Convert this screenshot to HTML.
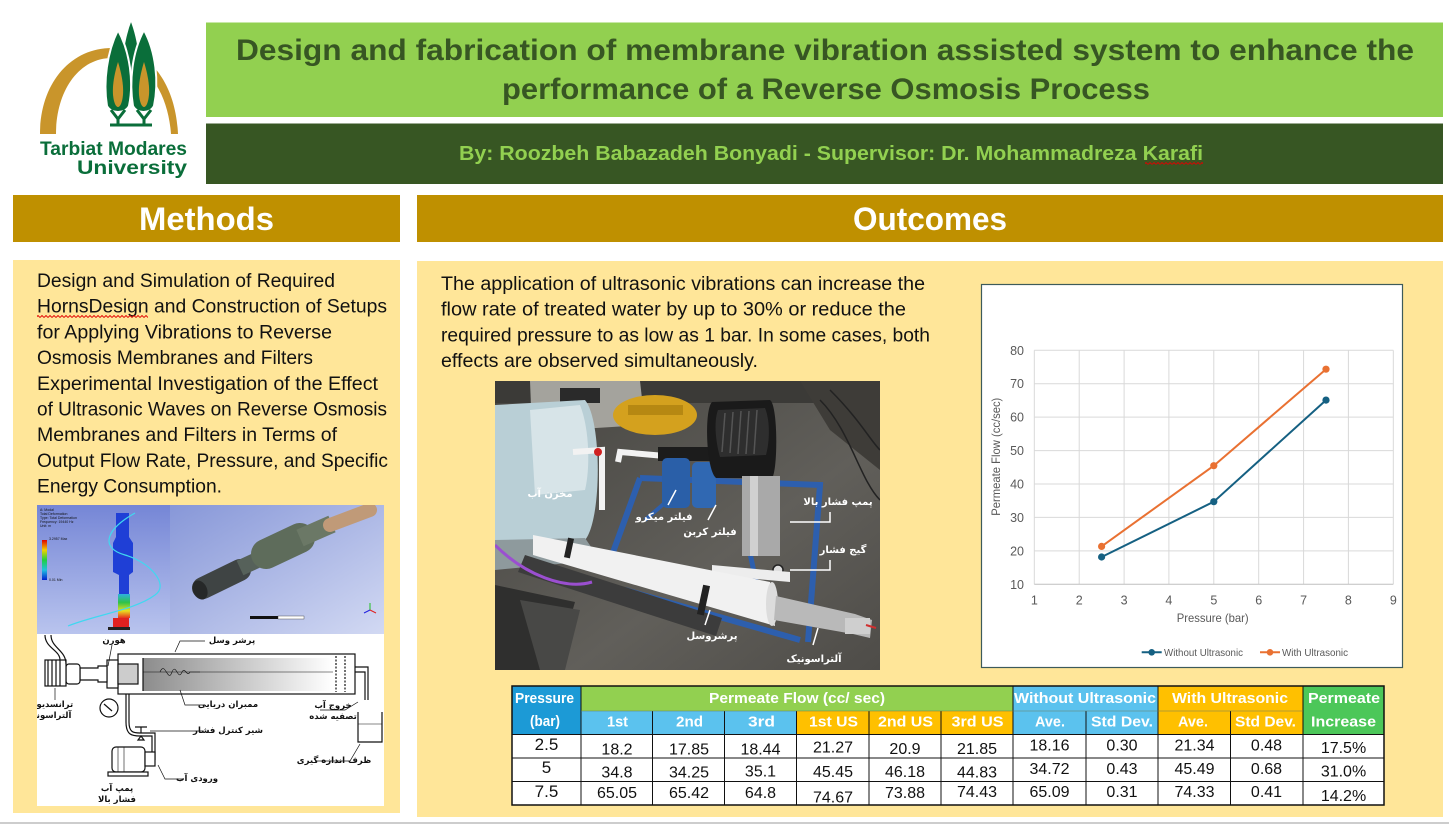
<!DOCTYPE html>
<html><head><meta charset="utf-8">
<style>
html,body{margin:0;padding:0;background:#fff;width:1449px;height:826px;overflow:hidden}
svg{display:block}
</style></head>
<body>
<svg xmlns="http://www.w3.org/2000/svg" width="1449" height="826" viewBox="0 0 1449 826" font-family="'Liberation Sans','DejaVu Sans',sans-serif">
<defs>
  <pattern id="sq" width="4" height="3" patternUnits="userSpaceOnUse">
    <path d="M0,2.5 L2,0.5 L4,2.5" fill="none" stroke="#e00000" stroke-width="0.9"/>
  </pattern>
  <linearGradient id="ansys" x1="0" y1="0" x2="0" y2="1">
    <stop offset="0" stop-color="#7586d6"/><stop offset="1" stop-color="#b9c4ee"/>
  </linearGradient>
  <linearGradient id="meshbg" x1="0" y1="0" x2="1" y2="1">
    <stop offset="0" stop-color="#8797d8"/><stop offset="1" stop-color="#d2d9f3"/>
  </linearGradient>
  <linearGradient id="memb" x1="0" y1="0" x2="1" y2="0">
    <stop offset="0" stop-color="#8c8c8c"/><stop offset="1" stop-color="#ffffff"/>
  </linearGradient>
  <linearGradient id="floor" x1="0" y1="0" x2="1" y2="1">
    <stop offset="0" stop-color="#454440"/><stop offset="0.6" stop-color="#615f5a"/><stop offset="1" stop-color="#4e4c48"/>
  </linearGradient>
  <linearGradient id="horncol" x1="0" y1="0" x2="0" y2="1">
    <stop offset="0" stop-color="#2fb0e0"/><stop offset="0.35" stop-color="#2ec24a"/><stop offset="0.7" stop-color="#e8e020"/><stop offset="1" stop-color="#e83020"/>
  </linearGradient>
  <linearGradient id="legcol" x1="0" y1="0" x2="0" y2="1">
    <stop offset="0" stop-color="#e00000"/><stop offset="0.25" stop-color="#f0d000"/><stop offset="0.5" stop-color="#20d040"/><stop offset="0.75" stop-color="#20c0e0"/><stop offset="1" stop-color="#0020d0"/>
  </linearGradient>
  <clipPath id="photoClip"><rect x="495" y="381" width="385" height="289"/></clipPath>
  <clipPath id="mimgClip"><rect x="37" y="505" width="347" height="301"/></clipPath>
</defs>

<rect width="1449" height="826" fill="#ffffff"/>

<!-- LOGO -->
<g>
  <path d="M40,134 C40,84 70,48 112,48 C150,48 176,85 178,134 L171,134 C168,92 146,58 112,58 C78,58 56,92 56,134 Z" fill="#C9952B"/>
  <path d="M131,20 C139,40 143,72 140,100 L122,100 C119,72 123,40 131,20 Z" fill="#0A6E3A" stroke="#fff" stroke-width="1.5"/>
  <path d="M118,30 C130,52 134,82 129,106 C125,114 111,114 107,106 C103,82 107,52 118,30 Z" fill="#0A6E3A" stroke="#fff" stroke-width="2"/>
  <path d="M144,30 C156,52 159,82 154,106 C150,114 137,114 133,106 C129,82 132,52 144,30 Z" fill="#0A6E3A" stroke="#fff" stroke-width="2"/>
  <path d="M118,62 C123,78 125,94 121,104 C119,108 117,108 115,104 C111,94 113,78 118,62 Z" fill="#C9952B"/>
  <path d="M144,62 C149,78 151,94 147,104 C145,108 143,108 141,104 C137,94 139,78 144,62 Z" fill="#C9952B"/>
  <path d="M111,110 L118,119 L118,125 M125,110 L118,119 M137,110 L144,119 L144,125 M151,110 L144,119 M110,125 L152,125" fill="none" stroke="#0A6E3A" stroke-width="3"/>
  <text x="40" y="155" font-size="19" font-weight="bold" fill="#0A6E3A" textLength="147" lengthAdjust="spacingAndGlyphs">Tarbiat Modares</text>
  <text x="77" y="174" font-size="19" font-weight="bold" fill="#0A6E3A" textLength="110" lengthAdjust="spacingAndGlyphs">University</text>
</g>

<!-- TITLE -->
<rect x="206" y="22.5" width="1237" height="94.5" fill="#92D050"/>
<rect x="206" y="123.5" width="1237" height="60.5" fill="#375623"/>
<text x="236" y="60" font-size="30" font-weight="bold" fill="#375623" textLength="1178" lengthAdjust="spacingAndGlyphs">Design and fabrication of membrane vibration assisted system to enhance the</text>
<text x="502" y="99" font-size="30" font-weight="bold" fill="#375623" textLength="648" lengthAdjust="spacingAndGlyphs">performance of a Reverse Osmosis Process</text>
<text x="459" y="160" font-size="20" font-weight="bold" fill="#92D050" textLength="744" lengthAdjust="spacingAndGlyphs">By: Roozbeh Babazadeh Bonyadi -  Supervisor: Dr.  Mohammadreza Karafi</text>
<rect x="1145" y="161.5" width="58" height="3" fill="url(#sq)"/>

<!-- SECTION HEADERS -->
<rect x="13" y="195" width="387" height="47" fill="#BF9000"/>
<rect x="417" y="195" width="1026" height="47" fill="#BF9000"/>
<text x="139" y="230" font-size="32" font-weight="bold" fill="#ffffff" textLength="135" lengthAdjust="spacingAndGlyphs">Methods</text>
<text x="853" y="230" font-size="32" font-weight="bold" fill="#ffffff" textLength="154" lengthAdjust="spacingAndGlyphs">Outcomes</text>

<!-- PANELS -->
<rect x="13" y="260" width="387" height="553" fill="#FFE699"/>
<rect x="417" y="261" width="1026" height="556" fill="#FFE699"/>
<rect x="0" y="822" width="1449" height="2" fill="#cdcdcd"/>

<!-- METHODS TEXT -->
<g font-size="19" fill="#111">
  <text x="37" y="287" textLength="298" lengthAdjust="spacingAndGlyphs">Design and Simulation of Required</text>
  <text x="37" y="312.7" textLength="350" lengthAdjust="spacingAndGlyphs">HornsDesign and Construction of Setups</text>
  <text x="37" y="338.4" textLength="295" lengthAdjust="spacingAndGlyphs">for Applying Vibrations to Reverse</text>
  <text x="37" y="364.1" textLength="276" lengthAdjust="spacingAndGlyphs">Osmosis Membranes and Filters</text>
  <text x="37" y="389.8" textLength="341" lengthAdjust="spacingAndGlyphs">Experimental Investigation of the Effect</text>
  <text x="37" y="415.5" textLength="350" lengthAdjust="spacingAndGlyphs">of Ultrasonic Waves on Reverse Osmosis</text>
  <text x="37" y="441.2" textLength="300" lengthAdjust="spacingAndGlyphs">Membranes and Filters in Terms of</text>
  <text x="37" y="466.9" textLength="351" lengthAdjust="spacingAndGlyphs">Output Flow Rate, Pressure, and Specific</text>
  <text x="37" y="492.6" textLength="185" lengthAdjust="spacingAndGlyphs">Energy Consumption.</text>
</g>
<rect x="37" y="315" width="111" height="3" fill="url(#sq)"/>

<!-- METHODS IMAGE -->
<g clip-path="url(#mimgClip)">
  <rect x="37" y="505" width="347" height="301" fill="#ffffff"/>
  <rect x="37" y="505" width="133" height="129" fill="url(#ansys)"/>
  <rect x="170" y="505" width="214" height="129" fill="url(#meshbg)"/>
  <rect x="42" y="540" width="5" height="40" fill="url(#legcol)"/>
  <g font-size="3.5" fill="#111">
    <text x="40" y="511">A: Modal</text>
    <text x="40" y="515">Total Deformation</text>
    <text x="40" y="519">Type: Total Deformation</text>
    <text x="40" y="523">Frequency: 19440 Hz</text>
    <text x="40" y="527">Unit: m</text>
    <text x="49" y="540">3.2957 Max</text>
    <text x="49" y="581">0.01 Min</text>
  </g>
  <path d="M116,513 L129,513 L129,537 L133,543 L133,572 L129,575 L129,595 L119,595 L119,575 L113,572 L113,543 L116,537 Z" fill="#1f3fd6"/>
  <rect x="118" y="594" width="12" height="24" fill="url(#horncol)"/>
  <rect x="113" y="618" width="16" height="10" fill="#e02020"/>
  <rect x="108" y="627" width="22" height="3" fill="#222"/>
  <path d="M68,626 C95,615 135,610 155,595 C170,585 150,562 125,555 C100,548 105,530 135,513" fill="none" stroke="#40d8f0" stroke-width="1.2"/>
  <line x1="203" y1="588" x2="240" y2="570" stroke="#3f4444" stroke-width="22" stroke-linecap="round"/>
  <line x1="240" y1="568" x2="268" y2="555" stroke="#56615a" stroke-width="16"/>
  <line x1="266" y1="554" x2="300" y2="538" stroke="#5e6c5b" stroke-width="30" stroke-linecap="round"/>
  <line x1="300" y1="538" x2="332" y2="524" stroke="#6b7866" stroke-width="18"/>
  <line x1="330" y1="525" x2="370" y2="510" stroke="#c09a78" stroke-width="14" stroke-linecap="round"/>
  <ellipse cx="200" cy="590" rx="7" ry="10" transform="rotate(-25 200 590)" fill="#262828"/>
  <rect x="250" y="616" width="28" height="3" fill="#111"/>
  <rect x="278" y="616" width="26" height="3" fill="#fff" stroke="#333" stroke-width="0.4"/>
  <g stroke-width="1"><line x1="370" y1="610" x2="370" y2="603" stroke="#20c020"/><line x1="370" y1="610" x2="364" y2="613" stroke="#2020e0"/><line x1="370" y1="610" x2="376" y2="613" stroke="#e02020"/></g>
  <g fill="none" stroke="#111" stroke-width="1.2">
    <rect x="118" y="654" width="237" height="40" fill="#fff"/>
    <rect x="143" y="658" width="190" height="33" fill="url(#memb)" stroke="none"/>
    <line x1="143" y1="658" x2="143" y2="691"/>
    <line x1="143" y1="672" x2="333" y2="672" stroke-width="0.6"/>
    <line x1="336" y1="656" x2="336" y2="692" stroke-dasharray="2,1.5"/>
    <line x1="345" y1="656" x2="345" y2="692" stroke-dasharray="2,1.5"/>
    <rect x="107" y="660" width="11" height="28" fill="#fff"/>
    <rect x="118" y="664" width="20" height="20" fill="#ccc"/>
    <path d="M80,668 L98,668 L98,666 L107,666 L107,682 L98,682 L98,680 L80,680 Z" fill="#fff"/>
    <rect x="66" y="664" width="14" height="20" rx="3" fill="#fff"/>
    <rect x="45" y="660" width="21" height="26" fill="#fff"/>
    <path d="M48,660 L48,686 M52,660 L52,686 M56,660 L56,686 M60,660 L60,686"/>
    <path d="M45,635 C45,648 60,650 60,660 M51,635 C51,648 66,650 66,664"/>
    <path d="M160,672 C165,660 168,684 172,672 C176,662 178,682 182,672 C185,666 187,678 190,672 L200,672" stroke-width="0.6"/>
    <path d="M355,667 L368,667 L368,700 M355,672 L365,672 L365,700"/>
    <path d="M358,712 L358,742 L382,742 L382,712"/>
    <line x1="358" y1="724" x2="382" y2="724" stroke-width="0.6"/>
    <line x1="126" y1="694" x2="126" y2="722"/><line x1="129" y1="694" x2="129" y2="722"/>
    <circle cx="109" cy="708" r="9" fill="#fff"/>
    <line x1="104" y1="704" x2="112" y2="711"/>
    <path d="M126,722 C126,735 132,736 140,736 L152,736 L152,760 M129,722 C129,732 133,733 140,733 L155,733 L155,760"/>
    <path d="M135,727 L147,727 M141,727 L141,733 M138,740 L144,740 L141,736 Z"/>
    <rect x="112" y="747" width="33" height="25" rx="4" fill="#fff"/>
    <rect x="145" y="752" width="10" height="14" fill="#fff"/>
    <rect x="108" y="772" width="40" height="4" fill="#fff"/>
    <line x1="118" y1="747" x2="118" y2="772" stroke-width="0.6"/><line x1="124" y1="747" x2="124" y2="772" stroke-width="0.6"/>
    <path d="M205,641 L180,641 L175,652" stroke-width="0.7"/>
    <path d="M112,645 L108,666" stroke-width="0.7"/>
    <path d="M55,700 L55,688" stroke-width="0.7"/>
    <path d="M205,705 L185,705 L180,690" stroke-width="0.7"/>
    <path d="M320,710 L345,710 L358,702" stroke-width="0.7"/>
    <path d="M202,731 L150,731" stroke-width="0.7"/>
    <path d="M315,761 L350,761 L360,744" stroke-width="0.7"/>
    <path d="M182,779 L165,779 L158,765" stroke-width="0.7"/>
  </g>
  <g font-family="'DejaVu Sans',sans-serif" font-size="8.5" font-weight="bold" fill="#111" text-anchor="middle">
    <text x="232" y="643">پرشر وسل</text>
    <text x="114" y="643">هورن</text>
    <text x="48" y="707">ترانسدیوسر</text>
    <text x="48" y="718">آلتراسونیک</text>
    <text x="228" y="707">ممبران دریایی</text>
    <text x="333" y="708">خروج آب</text>
    <text x="333" y="719">تصفیه شده</text>
    <text x="228" y="733">شیر کنترل فشار</text>
    <text x="334" y="763">ظرف اندازه گیری</text>
    <text x="197" y="781">ورودی آب</text>
    <text x="117" y="791">پمپ آب</text>
    <text x="117" y="802">فشار بالا</text>
  </g>
</g>

<!-- OUTCOMES TEXT -->
<g font-size="19" fill="#111">
  <text x="441" y="290" textLength="484" lengthAdjust="spacingAndGlyphs">The application of ultrasonic vibrations can increase the</text>
  <text x="441" y="315.7" textLength="465" lengthAdjust="spacingAndGlyphs">flow rate of treated water by up to 30% or reduce the</text>
  <text x="441" y="341.3" textLength="489" lengthAdjust="spacingAndGlyphs">required pressure to as low as 1 bar. In some cases, both</text>
  <text x="441" y="367" textLength="317" lengthAdjust="spacingAndGlyphs">effects are observed simultaneously.</text>
</g>

<!-- PHOTO -->
<g clip-path="url(#photoClip)">
  <rect x="495" y="381" width="385" height="289" fill="url(#floor)"/>
  <rect x="495" y="381" width="385" height="22" fill="#3b3a37"/>
  <polygon points="530,381 640,381 645,425 532,432" fill="#a4a39d"/>
  <rect x="560" y="388" width="40" height="15" fill="#2a2a2a"/>
  <polygon points="800,381 880,381 880,470 830,430" fill="#3e3c38"/>
  <path d="M820,400 C850,430 860,480 880,500 M830,390 C860,420 870,440 880,450" fill="none" stroke="#222" stroke-width="1.5"/>
  <ellipse cx="655" cy="415" rx="42" ry="20" fill="#d4a11e"/>
  <rect x="628" y="405" width="55" height="10" fill="#b68812"/>
  <path d="M495,405 L585,400 C602,420 602,520 585,540 L495,545 Z" fill="#b9cfd6"/>
  <path d="M530,410 L580,405 C590,430 590,470 585,490 L535,495 Z" fill="#d7e4e8"/>
  <path d="M495,540 L585,538 L600,560 L495,570 Z" fill="#8e9a9d"/>
  <polyline points="573,452 602,450 602,510" fill="none" stroke="#f2f2f2" stroke-width="6"/>
  <polyline points="618,462 620,452 665,456" fill="none" stroke="#f2f2f2" stroke-width="6"/>
  <circle cx="598" cy="452" r="4" fill="#d02020"/>
  <polyline points="640,478 820,485 808,642" fill="none" stroke="#2d5fae" stroke-width="6"/>
  <polyline points="640,478 612,555" fill="none" stroke="#2d5fae" stroke-width="6"/>
  <polyline points="625,590 800,640" fill="none" stroke="#2d5fae" stroke-width="6"/>
  <polyline points="745,530 760,600" fill="none" stroke="#2d5fae" stroke-width="5"/>
  <polyline points="680,490 645,520" fill="none" stroke="#2d5fae" stroke-width="4"/>
  <rect x="658" y="447" width="72" height="14" fill="#1c1c1c"/>
  <rect x="662" y="458" width="28" height="50" rx="5" fill="#2a5fa8"/>
  <rect x="692" y="462" width="24" height="46" rx="5" fill="#3068b2"/>
  <path d="M712,402 L770,400 C778,405 778,470 772,478 L716,478 C706,470 704,410 712,402 Z" fill="#1a1a1a"/>
  <path d="M718,410 L765,408 C770,420 770,440 766,455 L720,457 C715,440 714,420 718,410 Z" fill="#2e2e2e"/>
  <g stroke="#555" stroke-width="1.5"><line x1="725" y1="413" x2="722" y2="452"/><line x1="733" y1="412" x2="730" y2="453"/><line x1="741" y1="411" x2="738" y2="454"/><line x1="749" y1="411" x2="746" y2="454"/><line x1="757" y1="410" x2="754" y2="454"/></g>
  <rect x="742" y="476" width="38" height="80" fill="#a9a9a9"/>
  <rect x="750" y="476" width="8" height="80" fill="#d0d0d0"/>
  <circle cx="778" cy="570" r="5" fill="#ddd" stroke="#222" stroke-width="1.5"/>
  <polygon points="712,565 790,572 790,582 712,575" fill="#ededed"/>
  <polygon points="525,555 722,618 716,636 518,572" fill="#3c3c3c"/>
  <polygon points="533,535 770,582 775,626 533,555" fill="#f1f1f1"/>
  <ellipse cx="772" cy="604" rx="6" ry="22" fill="#dcdcdc"/>
  <rect x="566" y="538" width="6" height="20" fill="#222" transform="rotate(12 569 548)"/>
  <rect x="700" y="585" width="7" height="30" fill="#222" transform="rotate(12 703 600)"/>
  <polygon points="776,596 855,614 872,620 870,638 853,634 774,620" fill="#b9b9b9"/>
  <rect x="845" y="618" width="25" height="16" fill="#cfcfcf"/>
  <path d="M866,625 L876,628" stroke="#d03030" stroke-width="2"/>
  <path d="M495,545 C525,575 565,590 592,582" fill="none" stroke="#9b4fd0" stroke-width="3"/>
  <polygon points="495,585 575,602 555,670 495,670" fill="#2f2f2e"/>
  <polygon points="520,600 580,610 565,670 540,670" fill="#484846"/>
  <g fill="none" stroke="#fff" stroke-width="1.5">
    <path d="M668,505 L676,490"/>
    <path d="M708,520 L716,505"/>
    <path d="M830,512 L830,522 L790,522"/>
    <path d="M830,560 L830,570 L790,570"/>
    <path d="M705,625 L710,610"/>
    <path d="M813,645 L818,628"/>
  </g>
  <g font-family="'DejaVu Sans',sans-serif" font-size="10" font-weight="bold" fill="#ffffff" text-anchor="middle">
    <text x="550" y="497">مخزن آب</text>
    <text x="664" y="520">فیلتر میکرو</text>
    <text x="710" y="535">فیلتر کربن</text>
    <text x="838" y="505">پمپ فشار بالا</text>
    <text x="843" y="553">گیج فشار</text>
    <text x="712" y="639">پرشروسل</text>
    <text x="814" y="662">آلتراسونیک</text>
  </g>
</g>

<!-- CHART -->
<g>
  <rect x="981.5" y="284.5" width="421" height="383" fill="#ffffff" stroke="#3d5b5b" stroke-width="1.2"/>
  <g stroke="#d9d9d9" stroke-width="1">
    <line x1="1034.3" y1="350.3" x2="1393.3" y2="350.3"/>
    <line x1="1034.3" y1="383.7" x2="1393.3" y2="383.7"/>
    <line x1="1034.3" y1="417.1" x2="1393.3" y2="417.1"/>
    <line x1="1034.3" y1="450.6" x2="1393.3" y2="450.6"/>
    <line x1="1034.3" y1="484.0" x2="1393.3" y2="484.0"/>
    <line x1="1034.3" y1="517.4" x2="1393.3" y2="517.4"/>
    <line x1="1034.3" y1="550.9" x2="1393.3" y2="550.9"/>
    <line x1="1034.3" y1="350.3" x2="1034.3" y2="584.3"/>
    <line x1="1079.2" y1="350.3" x2="1079.2" y2="584.3"/>
    <line x1="1124.1" y1="350.3" x2="1124.1" y2="584.3"/>
    <line x1="1168.9" y1="350.3" x2="1168.9" y2="584.3"/>
    <line x1="1213.8" y1="350.3" x2="1213.8" y2="584.3"/>
    <line x1="1258.7" y1="350.3" x2="1258.7" y2="584.3"/>
    <line x1="1303.6" y1="350.3" x2="1303.6" y2="584.3"/>
    <line x1="1348.4" y1="350.3" x2="1348.4" y2="584.3"/>
    <line x1="1393.3" y1="350.3" x2="1393.3" y2="584.3"/>
  </g>
  <line x1="1034.3" y1="584.3" x2="1393.3" y2="584.3" stroke="#bfbfbf" stroke-width="1"/>
  <g font-size="12.5" fill="#595959" text-anchor="end">
    <text x="1024" y="354.8">80</text>
    <text x="1024" y="388.2">70</text>
    <text x="1024" y="421.6">60</text>
    <text x="1024" y="455.1">50</text>
    <text x="1024" y="488.5">40</text>
    <text x="1024" y="521.9">30</text>
    <text x="1024" y="555.4">20</text>
    <text x="1024" y="588.8">10</text>
  </g>
  <g font-size="12.5" fill="#595959" text-anchor="middle">
    <text x="1034.3" y="604.5">1</text>
    <text x="1079.2" y="604.5">2</text>
    <text x="1124.1" y="604.5">3</text>
    <text x="1168.9" y="604.5">4</text>
    <text x="1213.8" y="604.5">5</text>
    <text x="1258.7" y="604.5">6</text>
    <text x="1303.6" y="604.5">7</text>
    <text x="1348.4" y="604.5">8</text>
    <text x="1393.3" y="604.5">9</text>
  </g>
  <text x="1212.7" y="622" font-size="12" fill="#595959" text-anchor="middle" textLength="72" lengthAdjust="spacingAndGlyphs">Pressure (bar)</text>
  <text transform="translate(1000,456.7) rotate(-90)" font-size="12" fill="#595959" text-anchor="middle" textLength="118" lengthAdjust="spacingAndGlyphs">Permeate Flow (cc/sec)</text>
  <polyline points="1101.6,557.0 1213.8,501.7 1326.0,400.1" fill="none" stroke="#156082" stroke-width="2"/>
  <polyline points="1101.6,546.4 1213.8,465.7 1326.0,369.2" fill="none" stroke="#E97132" stroke-width="2"/>
  <g fill="#156082"><circle cx="1101.6" cy="557.0" r="3.6"/><circle cx="1213.8" cy="501.7" r="3.6"/><circle cx="1326.0" cy="400.1" r="3.6"/></g>
  <g fill="#E97132"><circle cx="1101.6" cy="546.4" r="3.6"/><circle cx="1213.8" cy="465.7" r="3.6"/><circle cx="1326.0" cy="369.2" r="3.6"/></g>
  <line x1="1141.7" y1="652.3" x2="1161.7" y2="652.3" stroke="#156082" stroke-width="2"/>
  <circle cx="1151.7" cy="652.3" r="3.3" fill="#156082"/>
  <text x="1164" y="655.8" font-size="10.5" fill="#595959" textLength="79" lengthAdjust="spacingAndGlyphs">Without Ultrasonic</text>
  <line x1="1260" y1="652.3" x2="1280" y2="652.3" stroke="#E97132" stroke-width="2"/>
  <circle cx="1270" cy="652.3" r="3.3" fill="#E97132"/>
  <text x="1282" y="655.8" font-size="10.5" fill="#595959" textLength="66" lengthAdjust="spacingAndGlyphs">With Ultrasonic</text>
</g>

<!-- TABLE -->
<g>
  <rect x="512" y="686" width="872" height="119" fill="#ffffff"/>
  <rect x="512" y="686" width="69" height="48.5" fill="#1C9AD6"/>
  <rect x="581" y="686" width="432" height="25" fill="#92D050"/>
  <rect x="581" y="711" width="215.5" height="23.5" fill="#5BC2EE"/>
  <rect x="796.5" y="711" width="216.5" height="23.5" fill="#FFC000"/>
  <rect x="1013" y="686" width="145" height="48.5" fill="#5BC2EE"/>
  <rect x="1158" y="686" width="145" height="48.5" fill="#FFC000"/>
  <rect x="1303" y="686" width="81" height="48.5" fill="#4CC759"/>
  <g stroke="#111" stroke-width="1" fill="none">
    <rect x="512" y="686" width="872" height="119" stroke-width="1.5"/>
    <line x1="581" y1="686" x2="581" y2="805"/>
    <line x1="1013" y1="686" x2="1013" y2="805"/>
    <line x1="1158" y1="686" x2="1158" y2="805"/>
    <line x1="1303" y1="686" x2="1303" y2="805"/>
    <line x1="652.5" y1="711" x2="652.5" y2="805"/>
    <line x1="724.5" y1="711" x2="724.5" y2="805"/>
    <line x1="796.5" y1="711" x2="796.5" y2="805"/>
    <line x1="869" y1="711" x2="869" y2="805"/>
    <line x1="941" y1="711" x2="941" y2="805"/>
    <line x1="1086" y1="711" x2="1086" y2="805"/>
    <line x1="1230.5" y1="711" x2="1230.5" y2="805"/>
    <line x1="581" y1="711" x2="1303" y2="711" stroke="#6a7a60" stroke-width="0.6"/>
    <line x1="512" y1="734.5" x2="1384" y2="734.5"/>
    <line x1="512" y1="758" x2="1384" y2="758"/>
    <line x1="512" y1="781.5" x2="1384" y2="781.5"/>
  </g>
  <g font-size="15" font-weight="bold" fill="#ffffff" text-anchor="middle">
    <text x="544.5" y="703" textLength="59" lengthAdjust="spacingAndGlyphs">Pressure</text>
    <text x="545" y="726" textLength="30" lengthAdjust="spacingAndGlyphs">(bar)</text>
    <text x="797" y="703" textLength="176" lengthAdjust="spacingAndGlyphs">Permeate Flow (cc/ sec)</text>
    <text x="617.5" y="726.5" textLength="21" lengthAdjust="spacingAndGlyphs">1st</text>
    <text x="689.5" y="726.5" textLength="27" lengthAdjust="spacingAndGlyphs">2nd</text>
    <text x="761.5" y="726.5" textLength="27" lengthAdjust="spacingAndGlyphs">3rd</text>
    <text x="833.5" y="726.5" textLength="49" lengthAdjust="spacingAndGlyphs">1st US</text>
    <text x="905.5" y="726.5" textLength="55" lengthAdjust="spacingAndGlyphs">2nd US</text>
    <text x="977.5" y="726.5" textLength="52" lengthAdjust="spacingAndGlyphs">3rd US</text>
    <text x="1085" y="703" textLength="142" lengthAdjust="spacingAndGlyphs">Without Ultrasonic</text>
    <text x="1230" y="703" textLength="116" lengthAdjust="spacingAndGlyphs">With Ultrasonic</text>
    <text x="1050" y="726.5" textLength="30" lengthAdjust="spacingAndGlyphs">Ave.</text>
    <text x="1122" y="726.5" textLength="62" lengthAdjust="spacingAndGlyphs">Std Dev.</text>
    <text x="1193" y="726.5" textLength="30" lengthAdjust="spacingAndGlyphs">Ave.</text>
    <text x="1265.5" y="726.5" textLength="61" lengthAdjust="spacingAndGlyphs">Std Dev.</text>
    <text x="1344" y="703" textLength="72" lengthAdjust="spacingAndGlyphs">Permeate</text>
    <text x="1343.5" y="726.5" textLength="65" lengthAdjust="spacingAndGlyphs">Increase</text>
  </g>
  <g font-size="16" fill="#111" text-anchor="middle">
    <text x="546.5" y="750" font-size="17">2.5</text>
    <text x="617" y="754.5">18.2</text>
    <text x="689" y="754.5">17.85</text>
    <text x="760.5" y="754.5">18.44</text>
    <text x="833" y="752.5">21.27</text>
    <text x="905" y="754">20.9</text>
    <text x="977" y="754">21.85</text>
    <text x="1049.5" y="750.5">18.16</text>
    <text x="1122" y="750.5">0.30</text>
    <text x="1194.5" y="750.5">21.34</text>
    <text x="1266.5" y="750.5">0.48</text>
    <text x="1343.5" y="753">17.5%</text>

    <text x="546.5" y="773" font-size="17">5</text>
    <text x="617" y="777.5">34.8</text>
    <text x="689" y="777.5">34.25</text>
    <text x="760.5" y="776.5">35.1</text>
    <text x="833" y="777">45.45</text>
    <text x="905" y="777">46.18</text>
    <text x="977" y="777.5">44.83</text>
    <text x="1049.5" y="774">34.72</text>
    <text x="1122" y="774">0.43</text>
    <text x="1194.5" y="774">45.49</text>
    <text x="1266.5" y="774">0.68</text>
    <text x="1343.5" y="776.5">31.0%</text>

    <text x="546.5" y="797" font-size="17">7.5</text>
    <text x="617" y="798">65.05</text>
    <text x="689" y="798">65.42</text>
    <text x="760.5" y="798">64.8</text>
    <text x="833" y="802.5">74.67</text>
    <text x="905" y="798">73.88</text>
    <text x="977" y="797">74.43</text>
    <text x="1049.5" y="797">65.09</text>
    <text x="1122" y="797">0.31</text>
    <text x="1194.5" y="797">74.33</text>
    <text x="1266.5" y="797">0.41</text>
    <text x="1343.5" y="801">14.2%</text>
  </g>
</g>
</svg>
</body></html>
